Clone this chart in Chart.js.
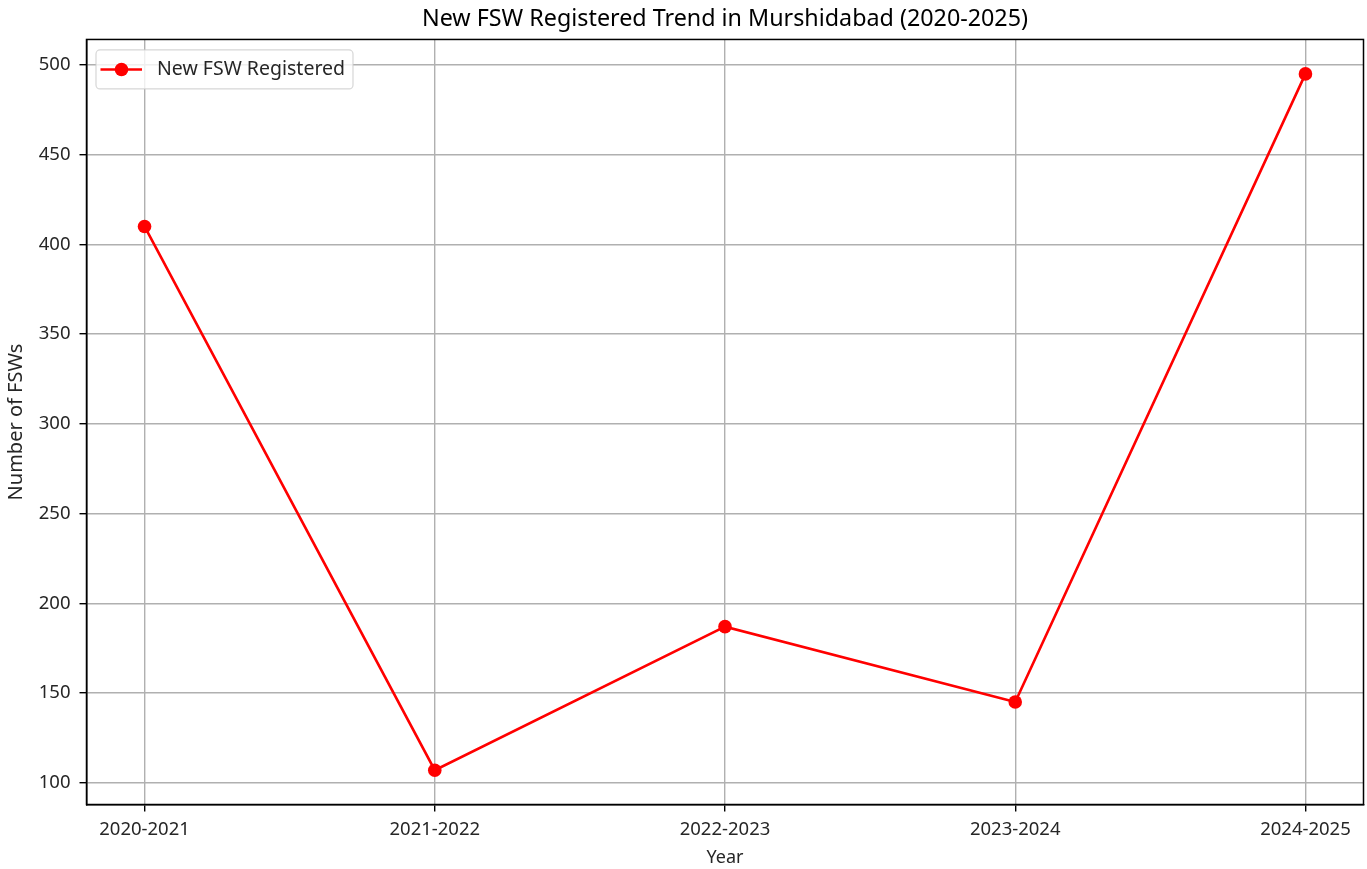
<!DOCTYPE html>
<html>
<head>
<meta charset="utf-8">
<script src="https://cdn.jsdelivr.net/npm/chart.js@4.4.1/dist/chart.umd.min.js"></script>
<style>
  html, body { margin: 0; padding: 0; background: #ffffff; }
  #wrap { width: 1367px; height: 869px; position: relative; }
</style>
</head>
<body>
<div id="wrap"><canvas id="c" width="1367" height="869"></canvas></div>
<script>
// ---- data ----
const categories = ["2020-2021", "2021-2022", "2022-2023", "2023-2024", "2024-2025"];
const newFswRegistered = [410, 107, 187, 145, 495];
const yTickValues = [100, 150, 200, 250, 300, 350, 400, 450, 500];
const seriesLabel = "New FSW Registered";
const chartTitle = "New FSW Registered Trend in Murshidabad (2020-2025)";
const xAxisTitle = "Year";
const yAxisTitle = "Number of FSWs";

const FONT = "'Noto Sans', 'DejaVu Sans', sans-serif";

const framePlugin = {
  id: 'frame',
  afterDatasetsDraw(chart) {
    const {ctx, chartArea: a} = chart;
    ctx.save();
    ctx.strokeStyle = '#000';
    ctx.lineWidth = 1.5;
    ctx.strokeRect(a.left, a.top, a.right - a.left, a.bottom - a.top);
    ctx.restore();
  }
};

const mplLegend = {
  id: 'mplLegend',
  afterDraw(chart) {
    const {ctx, chartArea: a} = chart;
    const ds = chart.data.datasets[0];
    const x0 = a.left + 9.5, y0 = a.top + 10.5, w = 257, h = 39, r = 4;
    ctx.save();
    ctx.globalAlpha = 0.8;
    ctx.fillStyle = '#fff';
    ctx.strokeStyle = '#cccccc';
    ctx.lineWidth = 1.2;
    ctx.beginPath();
    ctx.roundRect(x0, y0, w, h, r);
    ctx.fill();
    ctx.stroke();
    ctx.globalAlpha = 1;
    const cy = y0 + h / 2;
    ctx.strokeStyle = ds.borderColor;
    ctx.lineWidth = ds.borderWidth;
    ctx.beginPath();
    ctx.moveTo(x0 + 4.5, cy);
    ctx.lineTo(x0 + 46, cy);
    ctx.stroke();
    ctx.fillStyle = ds.pointBackgroundColor;
    ctx.beginPath();
    ctx.arc(x0 + 25.5, cy, ds.pointRadius, 0, Math.PI * 2);
    ctx.fill();
    ctx.fillStyle = '#262626';
    ctx.font = "19.5px " + FONT;
    ctx.textBaseline = 'middle';
    ctx.textAlign = 'left';
    ctx.fillText(ds.label, x0 + 61, cy);
    ctx.restore();
  }
};

new Chart(document.getElementById('c'), {
  type: 'line',
  data: {
    datasets: [{
      label: seriesLabel,
      data: newFswRegistered.map((v, i) => ({x: i, y: v})),
      borderColor: '#ff0000',
      backgroundColor: '#ff0000',
      pointBackgroundColor: '#ff0000',
      pointBorderWidth: 0,
      pointRadius: 6.8,
      borderWidth: 2.6,
      tension: 0,
      fill: false
    }]
  },
  options: {
    responsive: false,
    animation: false,
    devicePixelRatio: 1,
    layout: { autoPadding: false, padding: { left: 0, right: 3.5, top: 0, bottom: 0 } },
    plugins: {
      legend: { display: false },
      tooltip: { enabled: false },
      title: {
        display: true,
        fullSize: false,
        text: chartTitle,
        color: '#000',
        font: { family: FONT, size: 23.3, weight: 'normal', lineHeight: 1.2 },
        padding: { top: 5.5, bottom: 6 }
      }
    },
    scales: {
      x: {
        type: 'linear',
        min: -0.2,
        max: 4.2,
        afterBuildTicks(scale) { scale.ticks = categories.map((c, i) => ({value: i})); },
        afterFit(scale) { scale.height = 64.5; scale.paddingLeft = 0; scale.paddingRight = 0; },
        ticks: {
          autoSkip: false,
          maxRotation: 0,
          padding: 7.5,
          color: '#262626',
          font: { family: FONT, size: 18.5 },
          callback: (v) => categories[v]
        },
        grid: { color: '#b0b0b0', lineWidth: 1.4, tickLength: 7, tickColor: '#000', tickWidth: 1.4 },
        border: { display: true, color: '#000', width: 1.5 },
        title: {
          display: true, text: xAxisTitle, color: '#262626',
          font: { family: FONT, size: 18 }, padding: { top: 0, bottom: 0 }
        }
      },
      y: {
        type: 'linear',
        min: 87.9,
        max: 514.2,
        afterBuildTicks(scale) { scale.ticks = yTickValues.map(v => ({value: v})); },
        afterFit(scale) { scale.width = 86.5; },
        ticks: {
          padding: 9,
          color: '#262626',
          font: { family: FONT, size: 18.5 }
        },
        grid: { color: '#b0b0b0', lineWidth: 1.4, tickLength: 7, tickColor: '#000', tickWidth: 1.4 },
        border: { display: true, color: '#000', width: 1.5 },
        title: {
          display: true, text: yAxisTitle, color: '#262626',
          font: { family: FONT, size: 20 }, padding: { top: 4.7, bottom: 0 }
        }
      }
    }
  },
  plugins: [framePlugin, mplLegend]
});
</script>
</body>
</html>
